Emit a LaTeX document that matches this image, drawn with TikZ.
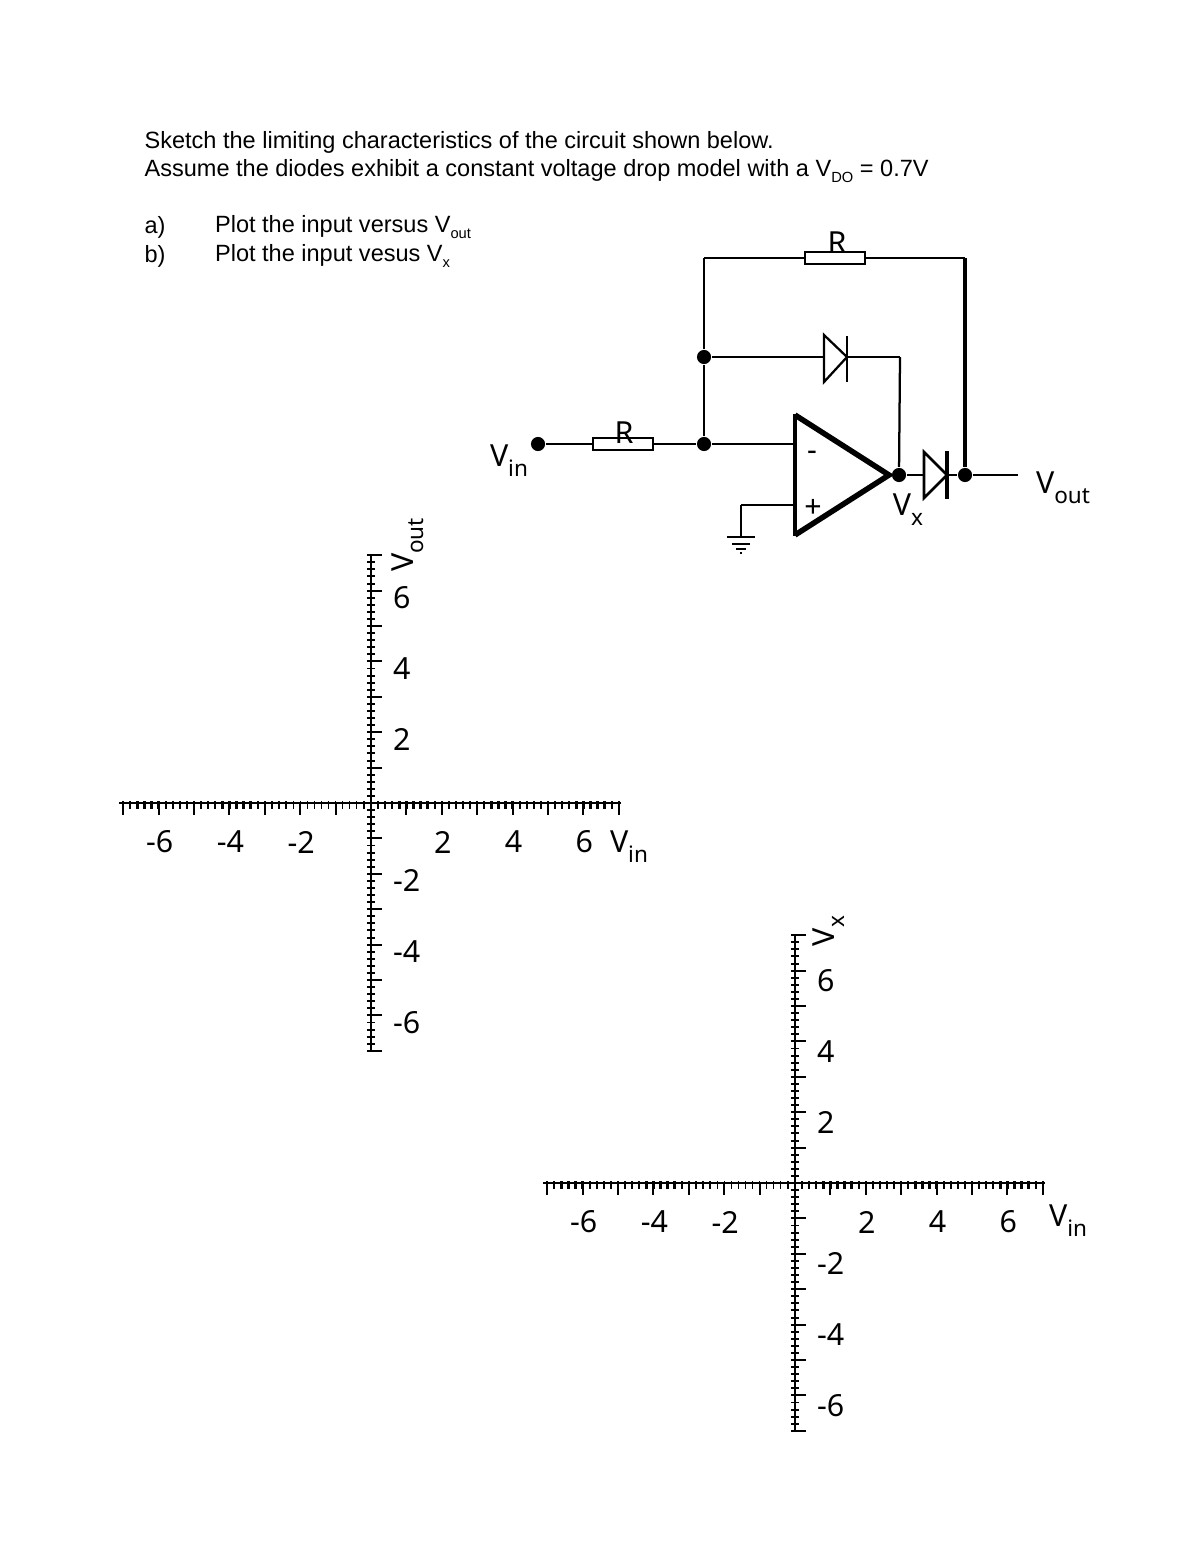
\documentclass[tikz,border=0pt]{standalone}
\usepackage{fontspec}
\setmainfont{Liberation Sans}
\newfontfamily\plotfont{Noto Sans}
\definecolor{ink_black}{RGB}{0,0,0}
\newcommand{\txtsub}[1]{\raisebox{-0.45ex}{\fontsize{7.5}{7.5}\selectfont #1}}
\newcommand{\labsub}[1]{\raisebox{-0.6ex}{\fontsize{11.5}{11.5}\selectfont #1}}

\begin{document}
\begin{tikzpicture}[x=0.51pt,y=-0.51pt,line width=1.15pt,draw=ink_black]
    \tikzstyle{txt}=[anchor=west, inner sep=0, font=\fontsize{12}{12}\selectfont]
    \tikzstyle{lab}=[inner sep=0, font=\plotfont\fontsize{15.5}{15.5}\selectfont]
    \tikzstyle{dot}=[circle, fill=black, draw=none, inner sep=0, minimum size=7.2pt]
    \tikzstyle{res}=[rectangle, draw, fill=none, inner sep=0, minimum width=30.6pt, minimum height=6.4pt]

    \useasboundingbox (0,0) rectangle (1200,1553);

    % heading
    \node[txt] (head1) at (143.5,142) {Sketch the limiting characteristics of the circuit shown below.};
    \node[txt] (head2) at (143.5,171) {Assume the diodes exhibit a constant voltage drop model with a V\txtsub{DO} = 0.7V};
    \node[txt] (parta) at (143.5,227) {a)};
    \node[txt] (partb) at (143.5,256) {b)};
    \node[txt] (plota) at (214,227) {Plot the input versus V\txtsub{out}};
    \node[txt] (plotb) at (214,256) {Plot the input vesus V\txtsub{x}};

    % circuit
    \node[dot] (vin) at (538,444) {};
    \node[res] (r1)  at (623,444) {};
    \node[dot] (n1)  at (704,444) {};
    \node[dot] (n2)  at (704,357) {};
    \node[res] (r2)  at (835,258) {};
    \node[dot] (vx)  at (899,475) {};
    \node[dot] (n3)  at (965,475) {};
    \coordinate (tl) at (704,258);
    \coordinate (tr) at (965,258);
    \coordinate (d1a) at (824,357);
    \coordinate (d1c) at (847,357);
    \coordinate (d1r) at (900,357);
    \coordinate (d2a) at (924,475);
    \coordinate (d2c) at (947,475);
    \coordinate (vo) at (1018,475);
    \coordinate (minus) at (795,444);
    \coordinate (plus) at (795,505);
    \coordinate (gl) at (741,505);
    \coordinate (gnd) at (741,537);

    \path
     (vin) edge (r1)
     (r1) edge (n1)
     (n1) edge (n2)
     (n2) edge (tl)
     (tl) edge (r2)
     (r2) edge (tr)
     (n2) edge (d1a)
     (d1c) edge (d1r)
     (d1r) edge (vx)
     (n1) edge (minus)
     (plus) edge (gl)
     (gl) edge (gnd)
     (vx) edge (d2a)
     (d2c) edge (n3)
     (n3) edge (vo)
     ;
    \draw[line width=1.6pt] (tr) -- (n3);

    % opamp
    \draw[line width=2pt] (795,414) -- (795,536);
    \draw[line width=2.8pt, line join=miter] (795,415) -- (889,475) -- (795,535);
    \node[lab] (minuslab) at (812,456) {-};
    \node[lab] (pluslab) at (813,508) {+};

    % diodes
    \draw (824,335) -- (847,357) -- (824,382) -- cycle;
    \draw (847,336) -- (847,382);
    \draw[line width=1.3pt] (924,452) -- (947,475) -- (924,498) -- cycle;
    \draw[line width=1.8pt] (947,451) -- (947,499);

    % ground
    \draw (727,537) -- (755,537);
    \draw (732,544) -- (750,544);
    \draw (736,549) -- (746,549);
    \draw (740,553) -- (742,553);

    \node[lab] (r1lab) at (624,433) {R};
    \node[lab] (r2lab) at (837,243) {R};
    \node[lab] (vinlab) at (509,461) {V\labsub{in}};
    \node[lab] (vxlab) at (908,510) {V\labsub{x}};
    \node[lab] (voutlab) at (1063,488) {V\labsub{out}};

    % axes
    \foreach \nm/\ox/\oy/\ly in {a/371/803/7, b/795/1183/10}
    {
      \begin{scope}[shift={(\ox,\oy)}]
        \coordinate (\nm xl) at (-252,0);
        \coordinate (\nm xr) at (250,0);
        \coordinate (\nm yt) at (0,-249);
        \coordinate (\nm yb) at (0,249);
        \draw[line width=1.3pt] (\nm xl) -- (\nm xr);
        \draw[line width=1.3pt] (\nm yt) -- (\nm yb);
        \foreach \i in {-35,...,35}
        {
          \ifnum\i<-11 \draw[line width=1.2pt] (\i*7.08,-2) -- (\i*7.08,6);
          \else\ifnum\i<0 \draw[line width=0.6pt] (\i*7.08,-2) -- (\i*7.08,6);
          \else \draw[line width=1.2pt] (\i*7.08,-2) -- (\i*7.08,6);
          \fi\fi
          \draw[line width=1pt] (-4,\i*7.08) -- (4,\i*7.08);
        }
        \foreach \i in {-7,...,7}
        {
          \draw[line width=1.1pt] (\i*35.4,0) -- (\i*35.4,12);
          \draw[line width=1.1pt] (0,\i*35.4) -- (11,\i*35.4);
        }
        \foreach \v in {-6,-4,-2,2,4,6}
        {
          \node[lab] (\nm x\v) at (\v*35.4+1,39) {\v};
          \node[lab, anchor=west] (\nm y\v) at (21,-\v*35.4+\ly) {\v};
        }
      \end{scope}
    }
    \node[lab] (axvin) at (629,847) {V\labsub{in}};
    \node[lab, rotate=90] (ayvout) at (408,545) {V\labsub{out}};
    \node[lab] (bxvin) at (1068,1221) {V\labsub{in}};
    \node[lab, rotate=90] (byvx) at (829,931) {V\labsub{x}};
\end{tikzpicture}
\end{document}
